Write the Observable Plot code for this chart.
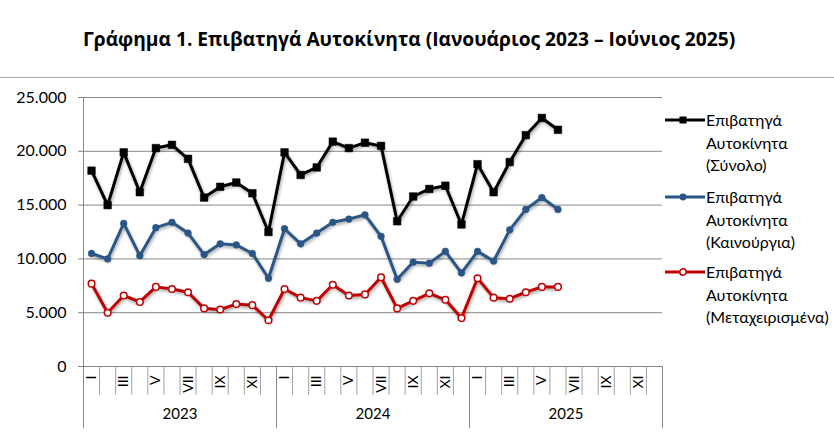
<!DOCTYPE html>
<html>
<head>
<meta charset="utf-8">
<script src="https://cdn.jsdelivr.net/npm/d3@7"></script>
<script src="https://cdn.jsdelivr.net/npm/@observablehq/plot@0.6"></script>
<style>
  html, body { margin: 0; padding: 0; background: #fff; }
  #wrap { position: relative; width: 834px; height: 436px; overflow: hidden; font-family: Lato, "Open Sans", sans-serif; }
  #title { height: 77px; border-bottom: 1px solid #a6a6a6; box-sizing: content-box; position: relative; }
  #title span { position: absolute; left: 83px; top: 25px; font-family: "Open Sans", Lato, sans-serif; font-weight: bold; font-size: 19.2px; color: #000; white-space: nowrap; }
  #chart svg { display: block; }
  .shadow { filter: drop-shadow(1.5px 2px 1.5px rgba(0,0,0,0.35)); }
  #legend { position: absolute; left: 664px; top: 0; }
  .entry { position: absolute; left: 0; width: 170px; }
  .entry svg { position: absolute; left: 0; top: 0; }
  .entry .txt { position: absolute; left: 42px; top: -11px; font-size: 16px; line-height: 22.5px; color: #000; white-space: nowrap; }
</style>
</head>
<body>
<div id="wrap">
  <div id="title"><span>Γράφημα 1. Επιβατηγά Αυτοκίνητα (Ιανουάριος 2023 – Ιούνιος 2025)</span></div>
  <div id="chart"></div>
  <div id="legend"></div>
</div>
<script>
const monthLabels = ["I","II","III","IV","V","VI","VII","VIII","IX","X","XI","XII"];
const years = ["2023", "2024", "2025"];
const yTicks = [0, 5000, 10000, 15000, 20000, 25000];

const seriesNames = [
  "Επιβατηγά Αυτοκίνητα (Σύνολο)",
  "Επιβατηγά Αυτοκίνητα (Καινούργια)",
  "Επιβατηγά Αυτοκίνητα (Μεταχειρισμένα)"
];
const legendLines = [
  ["Επιβατηγά", "Αυτοκίνητα", "(Σύνολο)"],
  ["Επιβατηγά", "Αυτοκίνητα", "(Καινούργια)"],
  ["Επιβατηγά", "Αυτοκίνητα", "(Μεταχειρισμένα)"]
];

const totalCars = [18200,15000,19900,16200,20300,20600,19300,15700,16700,17100,16100,12500,
                   19900,17800,18500,20900,20300,20800,20500,13500,15800,16500,16800,13200,
                   18800,16200,19000,21500,23100,22000];
const newCars   = [10500,10000,13300,10300,12900,13400,12400,10400,11400,11300,10500,8200,
                   12800,11400,12400,13400,13700,14100,12100,8100,9700,9600,10700,8700,
                   10700,9800,12700,14600,15700,14600];
const usedCars  = [7700,5000,6600,6000,7400,7200,6900,5400,5300,5800,5700,4300,
                   7200,6400,6100,7600,6600,6700,8300,5400,6100,6800,6200,4500,
                   8200,6400,6300,6900,7400,7400];

const nSlots = years.length * 12;
const toRows = (arr) => arr.map((v, i) => ({pos: i + 0.5, value: v}));
const totalRows = toRows(totalCars);
const newRows = toRows(newCars);
const usedRows = toRows(usedCars);

const locale = d3.formatLocale({decimal: ",", thousands: ".", grouping: [3], currency: ["", "€"]});
const fmt = locale.format(",d");

const gridColor = "#878787";
const colTotal = "#000000";
const colNew = "#2A5687";
const colUsed = "#C00000";

const chart = Plot.plot({
  width: 834,
  height: 358,
  marginLeft: 83,
  marginRight: 172,
  marginTop: 19,
  marginBottom: 70,
  style: {fontFamily: "Lato, 'Open Sans', sans-serif", color: "#000", background: "#fff"},
  x: {domain: [0, nSlots], axis: null, label: null},
  y: {domain: [0, 25000], axis: null, label: null},
  marks: [
    Plot.gridY(yTicks, {stroke: gridColor, strokeOpacity: 1, strokeWidth: 1}),
    Plot.ruleX([0], {stroke: gridColor, strokeWidth: 1}),
    Plot.axisY({ticks: yTicks, tickFormat: fmt, tickSize: 5, tickPadding: 12, fontSize: 16, stroke: gridColor, fill: "#000", label: null}),
    Plot.axisX({ticks: d3.range(nSlots + 1), tickSize: 29, tickFormat: () => "", stroke: "#a0a0a0", label: null}),
    Plot.axisX({ticks: d3.range(0, nSlots + 1, 12), tickSize: 62, tickFormat: () => "", stroke: gridColor, label: null}),
    Plot.axisX({ticks: d3.range(0, nSlots, 2).map(i => i + 0.5), tickSize: 0, tickPadding: 9, tickRotate: -90,
                tickFormat: d => monthLabels[Math.floor(d) % 12], fontSize: 14, fill: "#000", label: null}),
    Plot.axisX({ticks: years.map((y, i) => i * 12 + 6), tickSize: 0, tickPadding: 42,
                tickFormat: d => years[Math.floor(d / 12)], fontSize: 15, fill: "#000", label: null}),
    Plot.line(usedRows, {x: "pos", y: "value", stroke: colUsed, strokeWidth: 3, className: "shadow"}),
    Plot.dot(usedRows, {x: "pos", y: "value", r: 3.3, fill: "#fff", stroke: colUsed, strokeWidth: 1.5}),
    Plot.line(newRows, {x: "pos", y: "value", stroke: colNew, strokeWidth: 3, className: "shadow"}),
    Plot.dot(newRows, {x: "pos", y: "value", r: 3.4, fill: colNew, stroke: colNew, strokeWidth: 0.5}),
    Plot.line(totalRows, {x: "pos", y: "value", stroke: colTotal, strokeWidth: 3, className: "shadow"}),
    Plot.dot(totalRows, {x: "pos", y: "value", symbol: "square", r: 4.3, fill: colTotal, stroke: colTotal, strokeWidth: 0.5})
  ]
});
document.getElementById("chart").appendChild(chart);

// Legend
const legend = document.getElementById("legend");
const legendTops = [120, 197, 272];
const legendStyles = [
  {color: colTotal, marker: "square"},
  {color: colNew, marker: "dot"},
  {color: colUsed, marker: "open"}
];
legendLines.forEach((lines, i) => {
  const st = legendStyles[i];
  const div = document.createElement("div");
  div.className = "entry";
  div.style.top = legendTops[i] + "px";
  div.title = seriesNames[i];
  let marker;
  if (st.marker === "square") marker = `<rect x="15.5" y="-3.5" width="7" height="7" fill="${st.color}"/>`;
  else if (st.marker === "dot") marker = `<circle cx="19" cy="0" r="3.4" fill="${st.color}"/>`;
  else marker = `<circle cx="19" cy="0" r="3.2" fill="#fff" stroke="${st.color}" stroke-width="1.5"/>`;
  div.innerHTML = `<svg width="42" height="12" viewBox="0 -6 42 12" style="top:-6px"><line x1="1" x2="41" y1="0" y2="0" stroke="${st.color}" stroke-width="3"/>${marker}</svg>` +
    `<div class="txt">${lines.join("<br>")}</div>`;
  legend.appendChild(div);
});
</script>
</body>
</html>
